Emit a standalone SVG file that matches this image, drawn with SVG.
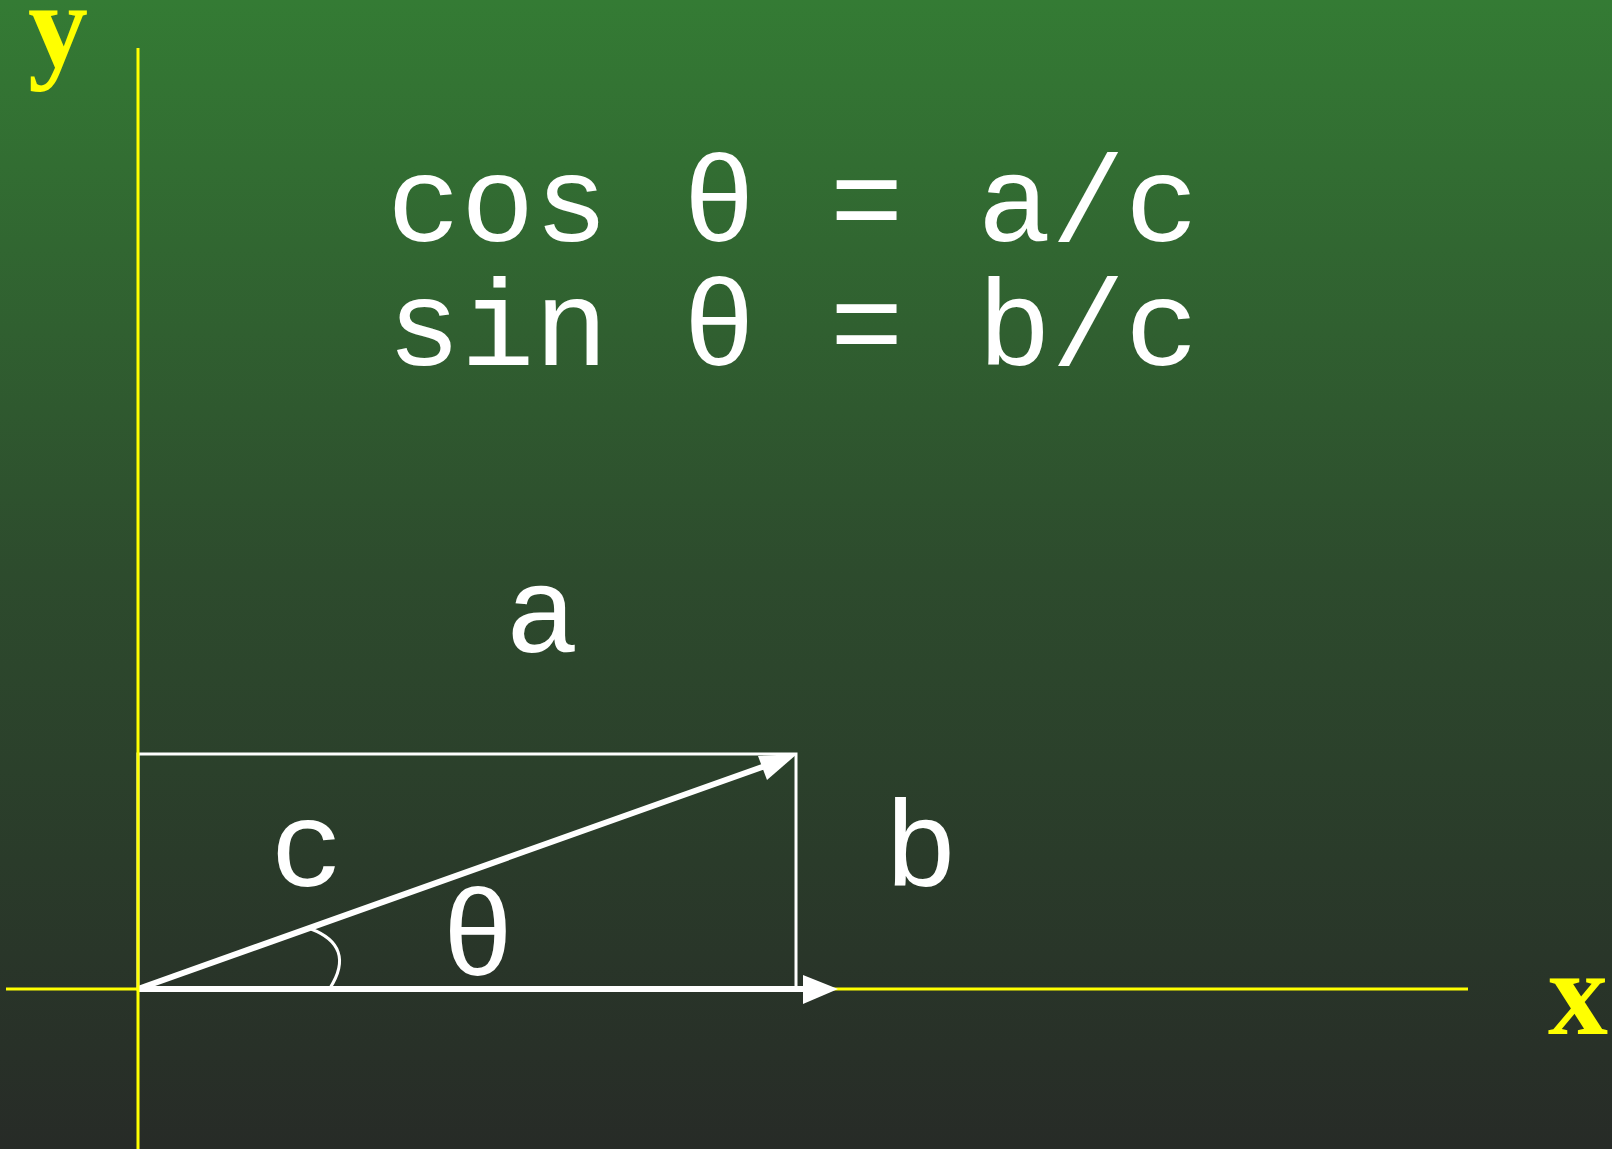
<svg xmlns="http://www.w3.org/2000/svg" width="1612" height="1149" viewBox="0 0 1612 1149">
<defs>
<linearGradient id="bg" x1="0" y1="0" x2="0" y2="1">
<stop offset="0" stop-color="#347b34"/>
<stop offset="0.5" stop-color="#2d4b2d"/>
<stop offset="1" stop-color="#272b27"/>
</linearGradient>
<style>
.eq{font-family:"Liberation Mono","Courier New",monospace;font-size:123px;fill:#ffffff}
.lbl{font-family:"Liberation Mono","Courier New",monospace;font-size:123px;fill:#ffffff;text-anchor:middle}
.ax{font-family:"Liberation Serif","Times New Roman",serif;font-size:120px;font-weight:bold;fill:#ffff00;text-anchor:middle}
.axis{stroke:#ffff00;stroke-width:3;fill:none}
.thin{stroke:#ffffff;stroke-width:3;fill:none}
.vec{stroke:#ffffff;stroke-width:6;fill:none}
</style>
</defs>
<rect width="1612" height="1149" fill="url(#bg)"/>
<g id="box"><rect x="138" y="754" width="658" height="235" class="thin"/></g>
<g id="connectors">
<line x1="6" y1="989" x2="1468" y2="989" class="axis"/>
<line x1="138" y1="989" x2="805" y2="989" class="vec"/>
<polygon points="803,975 838,989 803,1004" fill="#ffffff"/>
<line x1="138" y1="989" x2="765" y2="766" class="vec"/>
<polygon points="758,756 797,754 767,780" fill="#ffffff"/>
<path d="M 311 929 C 340 940, 348 960, 330 988" class="thin" stroke-width="2.5"/>
<line x1="138" y1="48" x2="138" y2="1149" class="axis"/>
</g>
<g id="axis-y"><text x="58" y="66" class="ax">y</text></g>
<g id="axis-x"><text x="1578" y="1034" class="ax">x</text></g>
<g id="eq-cos"><text x="387" y="241" class="eq" xml:space="preserve">cos θ = a/c</text></g>
<g id="eq-sin"><text x="387" y="365" class="eq" xml:space="preserve">sin θ = b/c</text></g>
<g id="label-a"><text x="542" y="652" class="lbl">a</text></g>
<g id="label-b"><text x="921" y="886" class="lbl">b</text></g>
<g id="label-c"><text x="307" y="886" class="lbl">c</text></g>
<g id="label-theta"><text x="478" y="975" class="lbl">θ</text></g>
</svg>
